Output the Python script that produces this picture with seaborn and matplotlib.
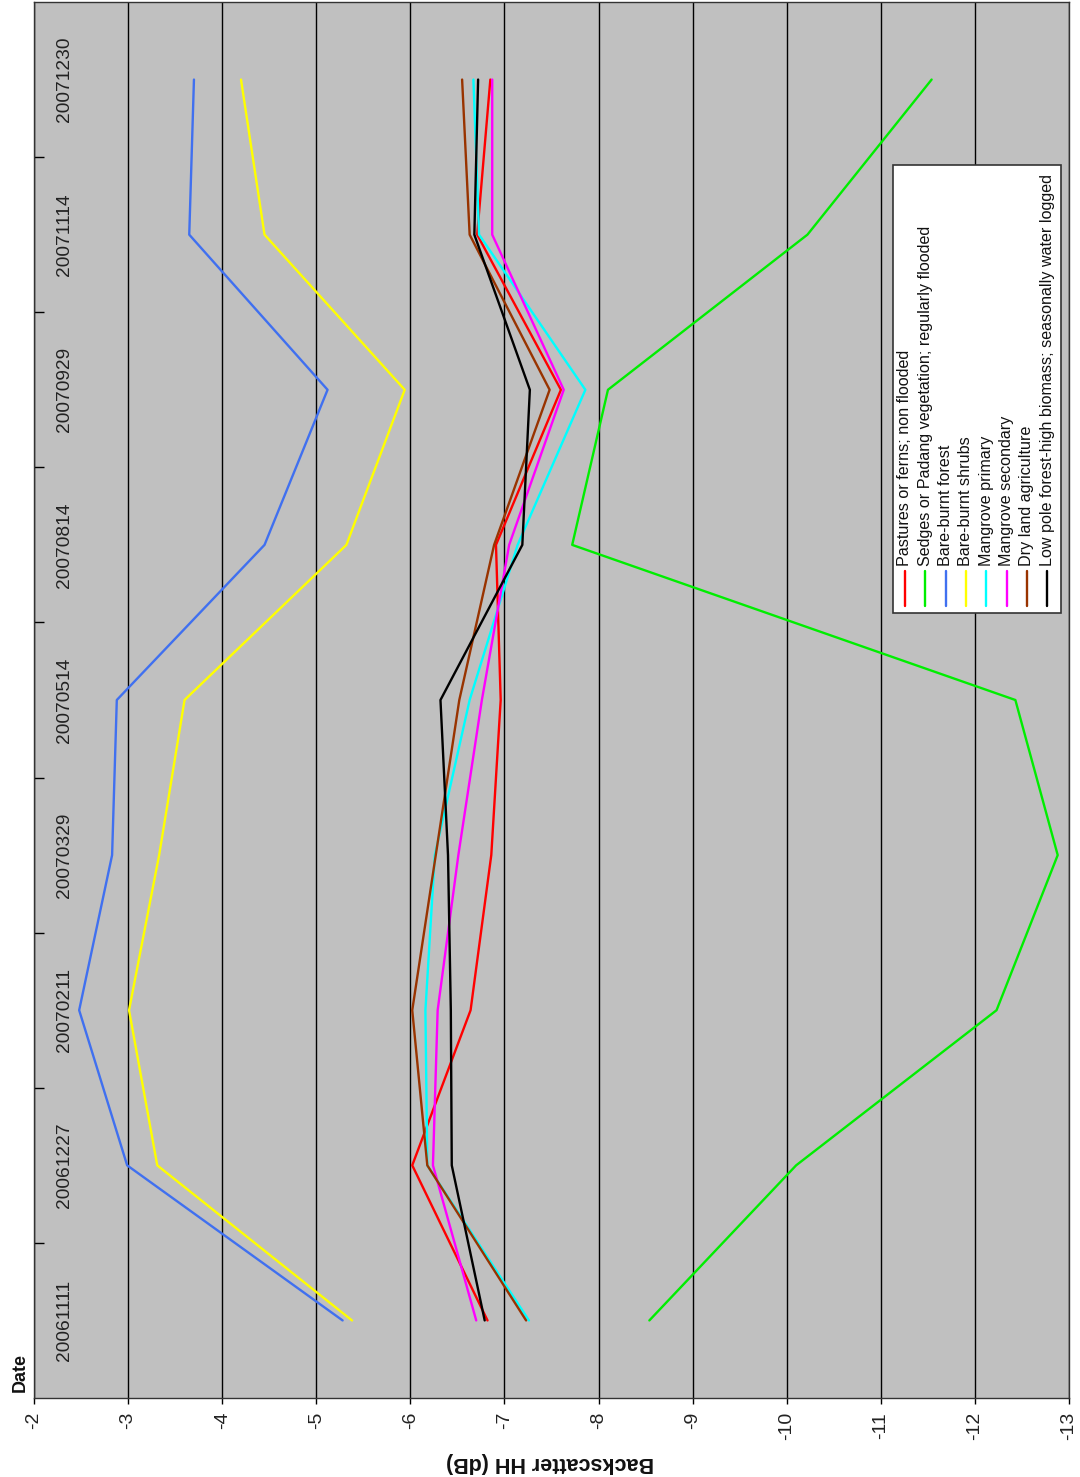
import matplotlib
matplotlib.use("Agg")
import matplotlib.pyplot as plt
from matplotlib.lines import Line2D
from matplotlib.patches import Rectangle
import matplotlib.transforms as mtransforms
import numpy as np
import pandas as pd
import seaborn as sns

# Acquisition dates (category axis, bottom to top)
dates = ["20061111", "20061227", "20070211", "20070329", "20070514",
         "20070814", "20070929", "20071114", "20071230"]

# Mean HH backscatter (dB) per land-cover class
pastures = [-6.82, -6.02, -6.64, -6.86, -6.96, -6.91, -7.60, -6.71, -6.85]
sedges = [-8.54, -10.10, -12.23, -12.88, -12.43, -7.72, -8.10, -10.22, -11.54]
bare_forest = [-5.28, -2.99, -2.48, -2.83, -2.88, -4.45, -5.12, -3.65, -3.70]
bare_shrubs = [-5.38, -3.31, -3.01, -3.33, -3.60, -5.32, -5.94, -4.45, -4.20]
mangrove_primary = [-7.26, -6.18, -6.16, -6.26, -6.63, -7.14, -7.86, -6.73, -6.67]
mangrove_secondary = [-6.70, -6.24, -6.29, -6.51, -6.76, -7.05, -7.63, -6.87, -6.87]
dry_land = [-7.23, -6.18, -6.02, -6.27, -6.52, -6.89, -7.48, -6.63, -6.55]
low_pole = [-6.79, -6.44, -6.43, -6.40, -6.32, -7.19, -7.27, -6.68, -6.72]

class_names = [
    "Pastures or ferns; non flooded",
    "Sedges or Padang vegetation; regularly flooded",
    "Bare-burnt forest",
    "Bare-burnt shrubs",
    "Mangrove primary",
    "Mangrove secondary",
    "Dry land agriculture",
    "Low pole forest-high biomass; seasonally water logged",
]
class_values = [pastures, sedges, bare_forest, bare_shrubs,
                mangrove_primary, mangrove_secondary, dry_land, low_pole]
class_colors = ["#ff0000", "#00ee00", "#4070f0", "#ffff00",
                "#00ffff", "#ff00ff", "#993300", "#000000"]

dB_ticks = list(range(-2, -14, -1))

rows = []
for name, vals in zip(class_names, class_values):
    for i, v in enumerate(vals):
        rows.append({"class": name, "idx": i, "dB": v})
df = pd.DataFrame(rows)

sns.set_theme(style="ticks")
plt.rcParams["font.family"] = ["Liberation Sans", "DejaVu Sans"]

W, H = 1080, 1477
fig = plt.figure(figsize=(W / 100, H / 100), dpi=100)
fig.patch.set_facecolor("white")

def fx(px):
    return px / W

def fy(py):
    return 1 - py / H

ax_l, ax_r, ax_t, ax_b = 34, 1069, 2, 1398
ax = fig.add_axes([fx(ax_l), fy(ax_b), fx(ax_r - ax_l), (ax_b - ax_t) / H])
ax.set_facecolor("#c0c0c0")

sns.lineplot(data=df, x="dB", y="idx", hue="class", hue_order=class_names,
             palette=dict(zip(class_names, class_colors)), orient="y",
             estimator=None, legend=False, linewidth=1.7, ax=ax, zorder=3)

ax.set_xlim(-2, -13)
ax.set_ylim(-0.5, len(dates) - 0.5)

# value axis (bottom)
ax.set_xticks(dB_ticks)
ax.set_xticklabels([str(t) for t in dB_ticks], rotation=90, fontsize=14)
ax.tick_params(axis="x", direction="out", length=4, width=1, color="black",
               pad=6, labelcolor="#222222")
ax.grid(axis="x", color="black", linewidth=1.0, zorder=1)
ax.grid(axis="y", visible=False)

# category axis (left, labels drawn inside)
ax.set_yticks([])
ax.set_yticks(np.arange(0.5, len(dates) - 1, 1.0), minor=True)
ax.tick_params(axis="y", which="minor", direction="in", length=7, width=1,
               color="black")
trans = mtransforms.blended_transform_factory(ax.transAxes, ax.transData)
for i, d in enumerate(dates):
    ax.text((64 - ax_l) / (ax_r - ax_l), i, d, rotation=90, ha="center",
            va="center", fontsize=13.8, color="#222222", transform=trans)

for s in ax.spines.values():
    s.set_color("#333333")
    s.set_linewidth(1.0)

ax.set_xlabel("")
ax.set_ylabel("")

fig.text(fx(550), fy(1462), "Backscatter HH (dB)", rotation=180, ha="center",
         va="center", fontsize=15.5, fontweight="bold", color="#111111")
fig.text(fx(20), fy(1372), "Date", rotation=90, ha="center", va="center",
         fontsize=13, fontweight="bold", color="#111111")

# legend box with vertical entries
lx0, lx1, ly0, ly1 = 893, 1061, 165, 613
fig.patches.append(Rectangle((fx(lx0), fy(ly1)), fx(lx1 - lx0), (ly1 - ly0) / H,
                             transform=fig.transFigure, facecolor="white",
                             edgecolor="#333333", linewidth=1.2, zorder=5))
for k, (name, col) in enumerate(zip(class_names, class_colors)):
    x = 905 + k * 20.3
    fig.lines.append(Line2D([fx(x), fx(x)], [fy(606), fy(571)],
                            transform=fig.transFigure, color=col,
                            linewidth=1.7, zorder=6))
    fig.text(fx(x), fy(566), name, rotation=90, ha="center", va="bottom",
             fontsize=11.6, color="#111111", zorder=6)

fig.savefig("out.png", dpi=100)
